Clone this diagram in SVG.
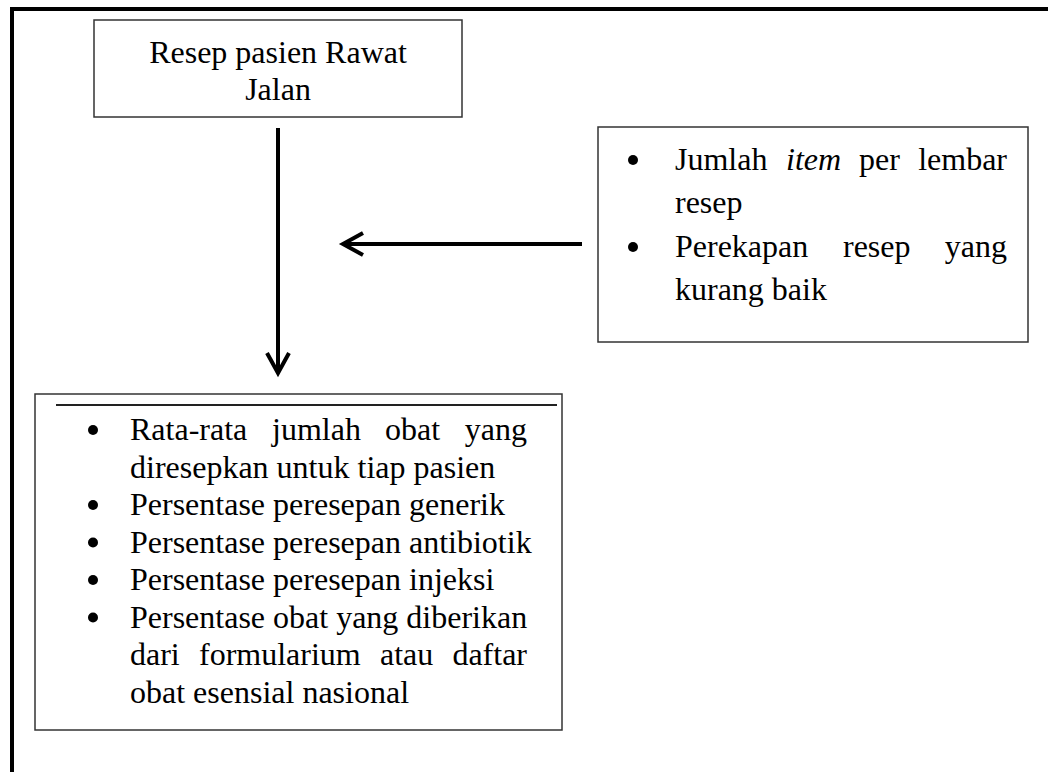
<svg xmlns="http://www.w3.org/2000/svg" width="1048" height="772" viewBox="0 0 1048 772">
  <style>
    .box { fill: #ffffff; stroke: #333333; stroke-width: 1.5; }
    .frame { fill: none; stroke: #000000; stroke-width: 4; }
    .conn { fill: none; stroke: #000000; stroke-width: 4; }
    .t { font-family: "Liberation Serif", "Times New Roman", serif; font-size: 32px; fill: #000000; }
    .it { font-style: italic; }
    .bullet { fill: #000000; }
  </style>
  <defs>
    <marker id="chev" markerUnits="userSpaceOnUse" markerWidth="40" markerHeight="40" viewBox="-30 -20 40 40" refX="0" refY="0" orient="auto">
      <path d="M-20,-11 L0,0 L-20,11" fill="none" stroke="#000000" stroke-width="4" stroke-linejoin="miter"/>
    </marker>
  </defs>
  <rect width="1048" height="772" fill="#ffffff"/>
  <path class="frame" d="M12,772 L12,9 L1048,9"/>

  <g id="connectors">
    <line class="conn" x1="278" y1="128" x2="278" y2="373" marker-end="url(#chev)"/>
    <line class="conn" x1="582" y1="244" x2="343" y2="244" marker-end="url(#chev)"/>
  </g>

  <g id="node-resep">
    <rect class="box" x="94" y="20" width="368" height="97"/>
    <text class="t" x="278" y="63" text-anchor="middle">Resep pasien Rawat</text>
    <text class="t" x="278" y="100" text-anchor="middle">Jalan</text>
  </g>

  <g id="node-faktor">
    <rect class="box" x="598" y="127" width="430" height="215"/>
    <circle class="bullet" cx="633" cy="160" r="5"/>
    <text class="t" x="675" y="170">Jumlah</text>
    <text class="t it" x="786" y="170">item</text>
    <text class="t" x="859" y="170">per</text>
    <text class="t" x="1007" y="170" text-anchor="end">lembar</text>
    <text class="t" x="675" y="213">resep</text>
    <circle class="bullet" cx="633" cy="247" r="5"/>
    <text class="t" x="675" y="257">Perekapan</text>
    <text class="t" x="843" y="257">resep</text>
    <text class="t" x="1007" y="257" text-anchor="end">yang</text>
    <text class="t" x="675" y="300">kurang baik</text>
  </g>

  <g id="node-indikator">
    <rect class="box" x="35" y="394" width="527" height="336"/>
    <line x1="56" y1="405" x2="557" y2="405" stroke="#222222" stroke-width="2"/>
    <circle class="bullet" cx="93" cy="430" r="5"/>
    <text class="t" x="130" y="440">Rata-rata</text>
    <text class="t" x="272" y="440">jumlah</text>
    <text class="t" x="385" y="440">obat</text>
    <text class="t" x="527" y="440" text-anchor="end">yang</text>
    <text class="t" x="130" y="477.5">diresepkan untuk tiap pasien</text>
    <circle class="bullet" cx="93" cy="505" r="5"/>
    <text class="t" x="130" y="515">Persentase peresepan generik</text>
    <circle class="bullet" cx="93" cy="542.5" r="5"/>
    <text class="t" x="130" y="552.5">Persentase peresepan antibiotik</text>
    <circle class="bullet" cx="93" cy="580" r="5"/>
    <text class="t" x="130" y="590">Persentase peresepan injeksi</text>
    <circle class="bullet" cx="93" cy="617.5" r="5"/>
    <text class="t" x="130" y="627.5">Persentase obat yang diberikan</text>
    <text class="t" x="130" y="665">dari</text>
    <text class="t" x="199" y="665">formularium</text>
    <text class="t" x="380" y="665">atau</text>
    <text class="t" x="527" y="665" text-anchor="end">daftar</text>
    <text class="t" x="130" y="702.5">obat esensial nasional</text>
  </g>
</svg>
